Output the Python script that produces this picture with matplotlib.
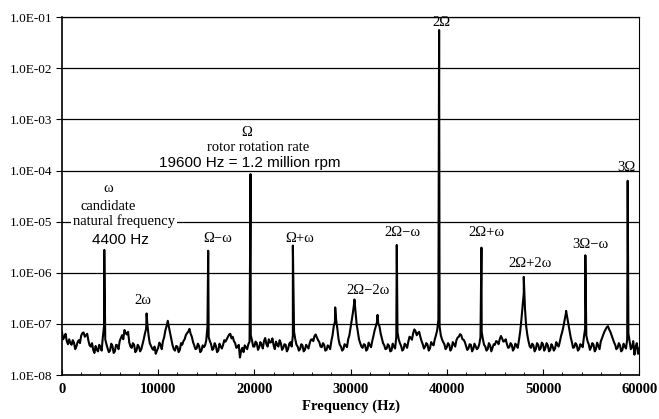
import numpy as np
import matplotlib
matplotlib.use("Agg")
import matplotlib.pyplot as plt
from matplotlib.ticker import FuncFormatter, MultipleLocator

SERIF = ['Liberation Serif', 'DejaVu Serif']
SANS = ['Liberation Sans', 'DejaVu Sans']

# noise floor, one value every 250 Hz from 0 Hz (units of 1e-8)
floor_step = 250
floor_vals = [
    7.0, 5.6, 4.6, 5.0, 3.9, 4.3, 3.6, 4.8, 5.9, 6.8, 6.0, 4.7, 3.6, 3.1, 3.7, 2.9, 3.5, 5.5, 5.0, 3.3,
    3.0, 3.7, 2.9, 3.8, 4.6, 6.0, 7.6, 6.2, 4.3, 3.4, 3.9, 3.0, 3.6, 3.2, 5.0, 8.0, 6.0, 3.7, 3.1, 2.6,
    3.4, 3.9, 4.6, 7.5, 11.5, 6.5, 3.8, 3.0, 3.6, 3.1, 3.9, 5.0, 6.6, 8.0, 5.6, 3.8, 3.3, 3.7, 3.0, 3.5,
    4.8, 5.5, 4.0, 3.3, 3.7, 3.0, 3.6, 3.9, 4.5, 5.5, 6.4, 5.6, 4.2, 3.5, 2.2, 3.4, 3.8, 3.2, 4.5, 4.8,
    3.6, 4.2, 3.5, 3.9, 4.6, 4.0, 5.0, 4.4, 3.8, 4.5, 3.6, 4.2, 3.4, 3.9, 3.2, 4.4, 6.0, 5.0, 3.6, 3.2,
    3.8, 3.1, 3.6, 4.2, 5.0, 5.8, 5.4, 4.4, 3.5, 3.9, 3.1, 3.6, 4.6, 9.0, 12.0, 5.0, 3.6, 3.2, 3.8, 5.0,
    8.5, 17.0, 18.0, 7.0, 4.2, 3.4, 3.9, 3.2, 3.8, 4.6, 7.5, 11.0, 9.0, 5.2, 3.8, 3.3, 3.7, 3.0, 3.6, 5.5,
    5.0, 3.7, 3.2, 3.8, 4.5, 5.4, 6.5, 7.2, 6.6, 5.6, 4.0, 3.6, 3.9, 3.3, 4.0, 5.0, 7.5, 9.0, 5.0, 4.0,
    3.5, 3.9, 3.3, 4.0, 4.8, 5.6, 6.0, 4.9, 3.7, 3.3, 3.9, 3.2, 3.6, 3.4, 5.5, 5.0, 3.6, 3.2, 3.8, 3.4,
    3.9, 4.5, 5.0, 5.2, 4.6, 4.0, 3.5, 3.9, 3.3, 3.8, 4.8, 12.0, 40.0, 9.0, 4.5, 3.4, 3.8, 3.2, 3.9, 3.3,
    4.0, 3.4, 3.8, 3.1, 3.6, 3.3, 3.9, 4.5, 7.0, 12.0, 14.0, 7.5, 4.4, 3.5, 3.9, 3.2, 3.8, 5.5, 6.0, 4.0,
    3.5, 3.9, 3.2, 3.7, 4.5, 6.0, 7.8, 9.0, 7.0, 5.2, 3.9, 3.4, 3.8, 3.1, 3.6, 5.0, 4.5, 3.5, 2.5, 4.2,
    3.3,
]
# in-between samples, every 250 Hz from 125 Hz (units of 1e-8)
mid_vals = [
    5.0, 6.4, 4.0, 4.2, 4.8, 3.2, 4.4, 4.2, 6.6, 5.6, 6.4, 3.8, 4.2, 2.7, 3.1, 3.9, 3.0, 9.0, 4.0, 2.8,
    4.1, 2.7, 3.9, 3.2, 5.3, 5.0, 6.6, 7.0, 3.6, 4.2, 2.8, 3.9, 2.9, 4.0, 6.5, 10.0, 4.2, 3.3, 3.6, 3.0,
    4.3, 3.2, 5.5, 9.0, 8.5, 5.0, 3.2, 3.7, 2.8, 4.2, 4.6, 6.0, 7.0, 6.4, 4.4, 3.2, 4.1, 2.8, 3.8, 3.8,
    9.0, 4.6, 3.1, 4.2, 2.8, 4.1, 3.3, 4.8, 5.0, 6.2, 5.2, 4.6, 3.4, 3.9, 3.0, 2.8, 3.5, 4.0, 6.0, 3.6,
    4.5, 3.1, 4.4, 3.3, 5.3, 3.6, 4.3, 5.2, 3.2, 3.9, 4.8, 3.1, 4.0, 2.9, 4.1, 3.6, 7.0, 3.9, 3.0, 4.0,
    2.9, 3.9, 3.3, 4.9, 4.6, 6.2, 4.8, 3.6, 4.2, 3.0, 3.8, 3.2, 6.0, 11.0, 8.0, 3.9, 3.0, 4.0, 3.5, 6.0,
    12.0, 26.0, 10.0, 5.0, 3.6, 4.0, 3.0, 4.3, 3.5, 5.8, 9.0, 10.0, 6.5, 4.2, 3.2, 4.0, 2.9, 4.1, 3.3, 7.0,
    4.2, 3.0, 4.1, 3.4, 5.6, 4.9, 7.8, 6.0, 7.0, 4.6, 3.3, 4.2, 3.0, 4.4, 3.8, 6.0, 12.0, 6.0, 4.4, 3.2,
    4.2, 3.0, 4.4, 3.6, 5.4, 6.3, 5.0, 4.4, 3.1, 4.0, 2.9, 4.1, 3.2, 4.0, 7.0, 3.9, 3.0, 4.2, 2.9, 4.0,
    4.6, 4.0, 5.8, 4.5, 5.0, 3.4, 4.2, 3.0, 4.1, 3.4, 7.0, 22.0, 20.0, 6.0, 3.6, 4.1, 2.9, 4.2, 3.1, 4.3,
    3.0, 4.2, 2.9, 4.0, 3.0, 4.4, 3.6, 5.8, 9.0, 16.0, 10.0, 5.5, 3.4, 4.2, 3.0, 4.0, 3.5, 8.0, 4.6, 3.1,
    4.2, 2.9, 4.3, 3.2, 5.2, 7.0, 8.6, 7.8, 6.0, 4.4, 3.2, 4.2, 2.9, 4.1, 3.3, 6.5, 3.2, 4.6, 3.6, 2.6,
]

# discrete lines: frequency (Hz) and peak amplitude
peak_freq = [4400, 8800, 15200, 19600, 24000, 28400, 30400, 32800, 34800,
             39200, 43600, 48000, 52400, 54400, 58800]
peak_amp = [2.8e-6, 1.6e-7, 2.7e-6, 8.5e-5, 3.4e-6, 2.1e-7, 3.0e-7, 1.5e-7, 3.5e-6,
            5.6e-2, 3.1e-6, 8.3e-7, 1.8e-7, 2.2e-6, 6.3e-5]

yticks = [1e-8, 1e-7, 1e-6, 1e-5, 1e-4, 1e-3, 1e-2, 1e-1]
xticks = [0, 10000, 20000, 30000, 40000, 50000, 60000]


def main():
    f_floor = np.arange(len(floor_vals)) * floor_step
    f_mid = np.arange(len(mid_vals)) * floor_step + floor_step / 2

    freq = np.concatenate([f_floor, f_mid, peak_freq])
    amp = np.concatenate([np.array(floor_vals) * 1e-8, np.array(mid_vals) * 1e-8, peak_amp])
    order = np.argsort(freq, kind='stable')
    freq, amp = freq[order], amp[order]

    fig = plt.figure(figsize=(6.59, 4.19), dpi=100)
    ax = fig.add_axes([0.094, 0.105, 0.876, 0.854])

    for y in yticks:
        ax.axhline(y, color='black', lw=0.9, zorder=1)

    ax.plot(freq, amp, color='black', lw=1.5, zorder=3)

    ax.set_yscale('log')
    ax.set_ylim(1e-8, 1e-1)
    ax.set_xlim(0, 60000)
    ax.set_yticks(yticks)
    ax.yaxis.set_minor_locator(plt.NullLocator())
    ax.yaxis.set_major_formatter(FuncFormatter(lambda v, p: f"{v:.1E}"))
    ax.set_xticks(xticks)
    ax.xaxis.set_minor_locator(MultipleLocator(2000))

    ax.tick_params(axis='y', direction='out', length=4, width=0.8, labelsize=9.5, pad=3)
    ax.tick_params(axis='x', which='major', direction='in', length=4, width=0.8,
                   labelsize=10.5, pad=6)
    ax.tick_params(axis='x', which='minor', direction='in', length=2.5, width=0.6)
    for lab in ax.get_yticklabels():
        lab.set_family(SERIF)
    for lab in ax.get_xticklabels():
        lab.set_family(SERIF)
        lab.set_fontweight('bold')

    for s in ['left', 'bottom']:
        ax.spines[s].set_linewidth(1.2)
    ax.spines['right'].set_linewidth(0.8)
    ax.spines['top'].set_linewidth(0.9)

    ax.set_xlabel('Frequency (Hz)', family=SERIF, fontweight='bold', fontsize=10.5, labelpad=2)

    # annotations
    def note(x, y, s, fam=SERIF, size=10.5, box=False):
        t = ax.text(x, y, s, family=fam, fontsize=size, ha='center', va='center', zorder=4)
        if box:
            t.set_bbox(dict(facecolor='white', edgecolor='none', pad=1.5))

    note(39400, 8.0e-2, '2Ω')
    note(58700, 1.17e-4, '3Ω')
    note(19240, 5.6e-4, 'Ω')
    note(20380, 2.87e-4, 'rotor rotation rate')
    note(19550, 1.40e-4, '19600 Hz = 1.2 million rpm', fam=SANS, size=11)
    note(4780, 4.5e-5, 'ω')
    note(4780, 2.0e-5, 'candidate')
    note(6450, 1.03e-5, 'natural frequency', box=True)
    note(6030, 4.4e-6, '4400 Hz', fam=SANS, size=11)
    note(8420, 2.9e-7, '2ω')
    note(16220, 4.7e-6, 'Ω−ω')
    note(24750, 4.7e-6, 'Ω+ω')
    note(35350, 6.0e-6, '2Ω−ω')
    note(31820, 4.4e-7, '2Ω−2ω')
    note(44090, 6.0e-6, '2Ω+ω')
    note(48670, 1.55e-6, '2Ω+2ω')
    note(54900, 3.5e-6, '3Ω−ω')

    fig.savefig('out.png', dpi=100)


if __name__ == "__main__":
    main()
